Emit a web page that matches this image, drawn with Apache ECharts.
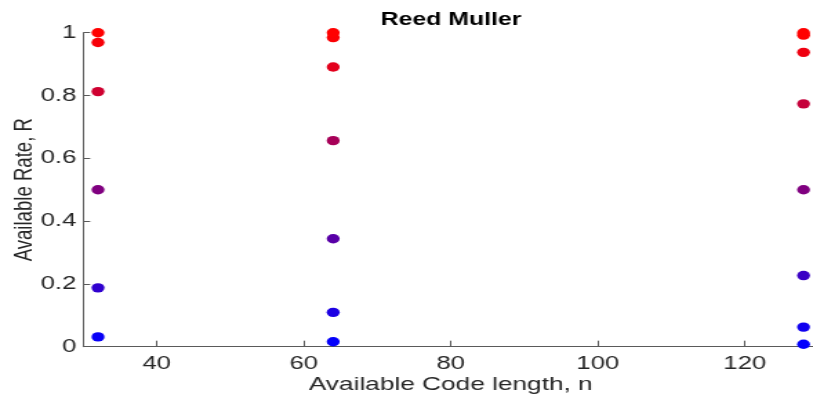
<!DOCTYPE html>
<html>
<head>
<meta charset="utf-8">
<script src="https://cdn.jsdelivr.net/npm/echarts@6/dist/echarts.min.js"></script>
<style>
html,body{margin:0;padding:0;background:#fff;}
#wrap{width:813px;height:402px;overflow:hidden;position:relative;}
#chart{width:589px;height:402px;transform:scaleX(1.3803);transform-origin:0 0;}
</style>
</head>
<body>
<div id="wrap"><div id="chart"></div></div>
<script>
// Data
const codeLengths = [32, 64, 128];
const rates32 = [0.03125, 0.1875, 0.5, 0.8125, 0.96875, 1];
const rates64 = [0.015625, 0.109375, 0.34375, 0.65625, 0.890625, 0.984375, 1];
const rates128 = [0.0078125, 0.0625, 0.2265625, 0.5, 0.7734375, 0.9375, 0.9921875, 1];
const ratesByLength = [rates32, rates64, rates128];
const xTicks = [40, 60, 80, 100, 120];
const yTicks = [0, 0.2, 0.4, 0.6, 0.8, 1];
const titleText = 'Reed Muller';
const xName = 'Available Code length, n';
const yName = 'Available Rate, R';

const points = [];
codeLengths.forEach((n, i) => {
  ratesByLength[i].forEach(r => points.push([n, r]));
});

function rateColor(r) {
  const red = Math.round(255 * r);
  const blue = Math.round(255 * (1 - r));
  return 'rgb(' + red + ',0,' + blue + ')';
}

const FONT = "'Liberation Sans', Arial, Helvetica, sans-serif";
const TXT = '#262626';
const AX = '#5a5a5a';

const chart = echarts.init(document.getElementById('chart'));
chart.setOption({
  animation: false,
  backgroundColor: '#ffffff',
  title: {
    text: titleText,
    left: 326.7,
    top: 11.5,
    padding: 0,
    textAlign: 'center',
    textStyle: { fontFamily: FONT, fontSize: 18, fontWeight: 'bold', color: '#000' }
  },
  grid: { left: 60.35, right: -3.8, top: 32.7, bottom: 55.3, containLabel: false, outerBoundsMode: 'none' },
  xAxis: {
    type: 'value',
    min: 30,
    max: 130,
    name: xName,
    nameLocation: 'middle',
    nameGap: 29,
    nameMoveOverlap: false,
    nameTextStyle: { fontFamily: FONT, fontSize: 19, color: TXT },
    axisLine: { show: true, onZero: false, lineStyle: { color: AX, width: 1 } },
    axisTick: { show: true, inside: true, length: 6, customValues: xTicks, lineStyle: { color: AX } },
    axisLabel: { customValues: xTicks, margin: 8, fontFamily: FONT, fontSize: 18.6, color: TXT },
    splitLine: { show: false }
  },
  yAxis: {
    type: 'value',
    min: 0,
    max: 1,
    name: yName,
    nameLocation: 'middle',
    nameGap: 33,
    nameRotate: 90,
    nameMoveOverlap: false,
    nameTextStyle: { fontFamily: FONT, fontSize: 18.6, color: TXT },
    axisLine: { show: true, lineStyle: { color: AX, width: 1 } },
    axisTick: { show: true, inside: true, length: 5, customValues: yTicks, lineStyle: { color: AX } },
    axisLabel: { customValues: yTicks, margin: 5, fontFamily: FONT, fontSize: 18.6, color: TXT },
    splitLine: { show: false }
  },
  series: [{
    type: 'scatter',
    data: points,
    symbol: 'circle',
    symbolSize: 9.4,
    clip: false,
    itemStyle: {
      opacity: 1,
      color: function (p) { return rateColor(p.value[1]); }
    }
  }]
});
</script>
</body>
</html>
